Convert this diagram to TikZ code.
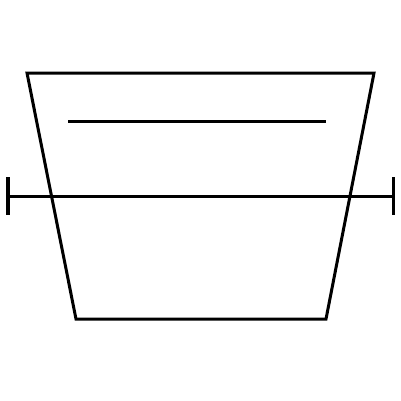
\documentclass[tikz,border=0pt]{standalone}
\usepackage{tikz}

\begin{document}
\begin{tikzpicture}[x=0.025cm,y=-0.025cm]
			%%%%% START %%%%%
			\useasboundingbox (0, 0) rectangle (401, 401);
			
			\draw[line width=0.75mm, line join=miter] (27, 73) -- (374, 73) -- (326, 319) -- (76, 319) -- cycle;
			
			\draw[line width=0.75mm] (68, 121) -- (326, 121);
			
			\draw[line width=0.75mm] (8, 196) -- (393, 196);
			\draw[line width=0.75mm] (8, 177) -- (8, 215);
			\draw[line width=0.75mm] (393, 177) -- (393, 215);
			%%%%% END %%%%%
		\end{tikzpicture}
\end{document}
